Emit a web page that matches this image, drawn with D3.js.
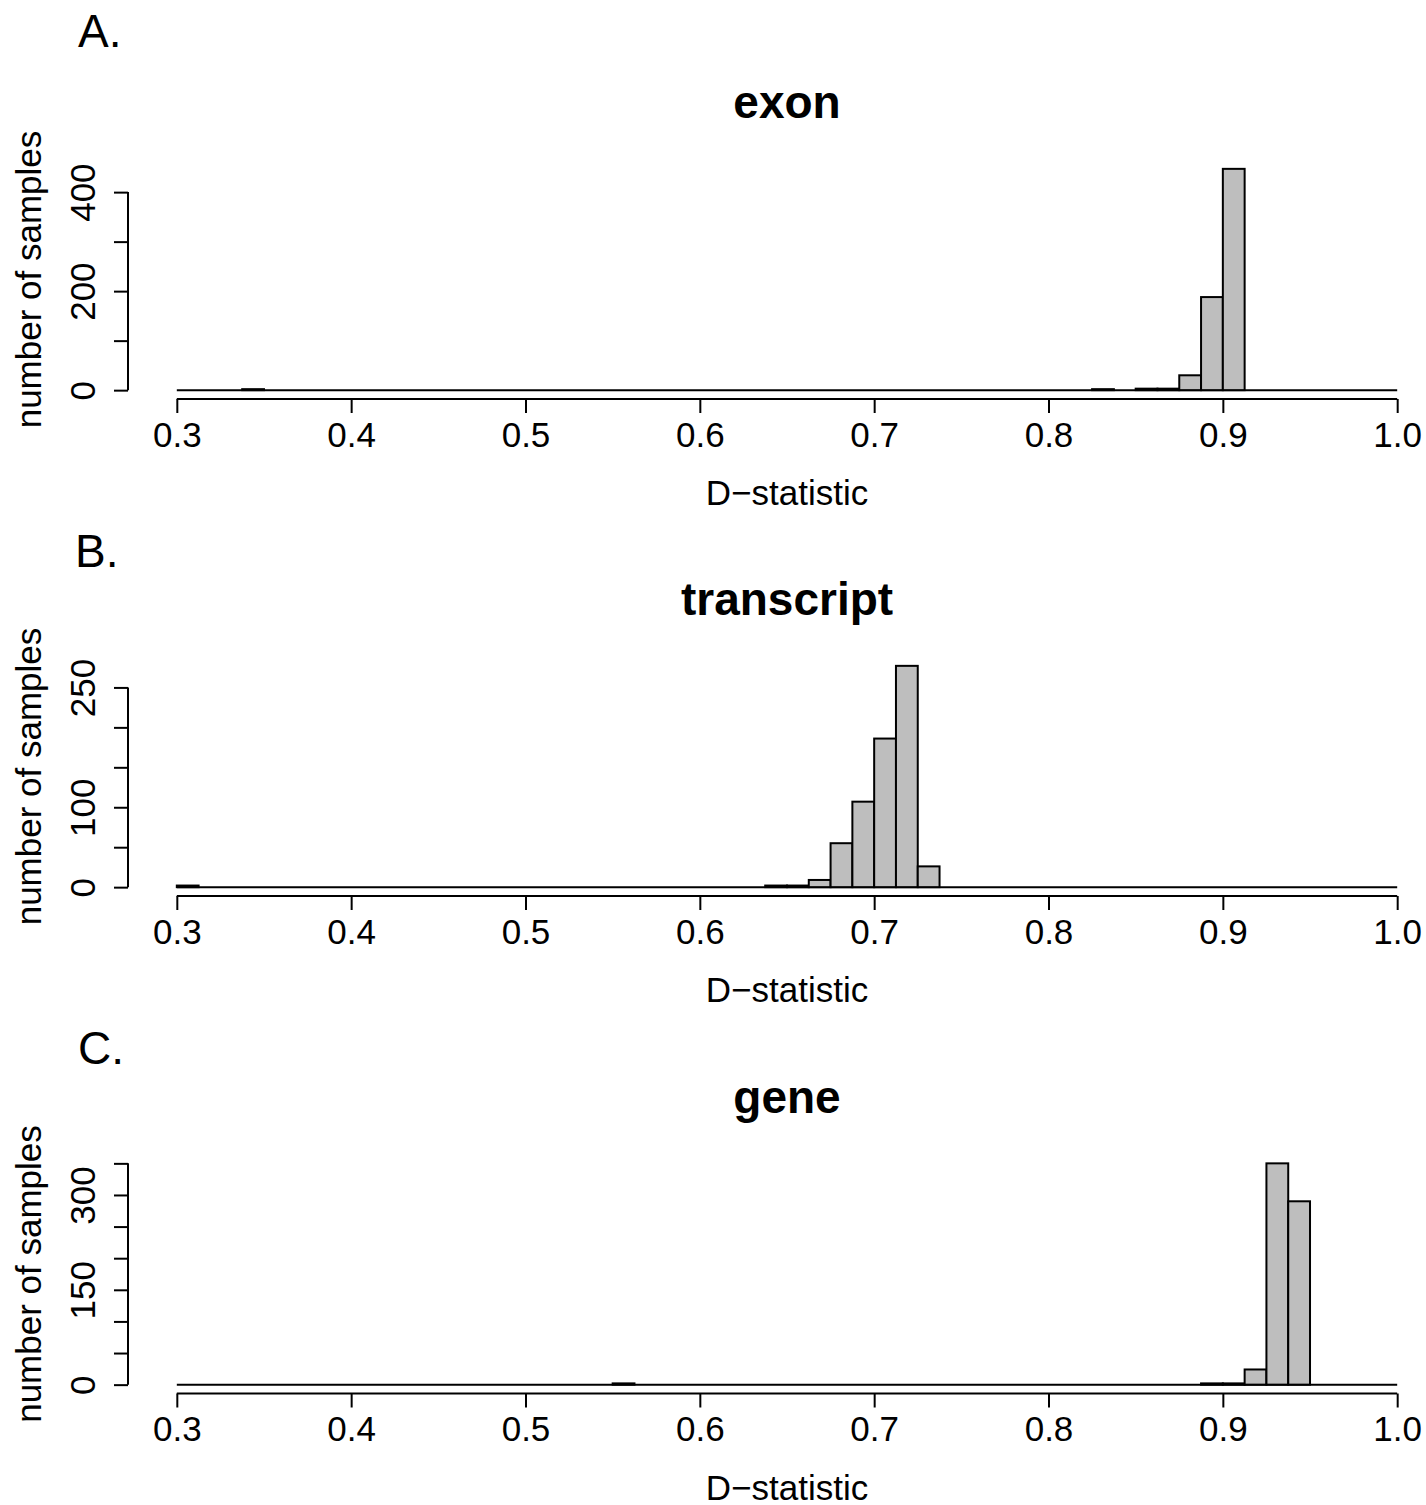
<!DOCTYPE html>
<html>
<head>
<meta charset="utf-8">
<script src="https://cdn.jsdelivr.net/npm/d3@7"></script>
<style>
  body { margin: 0; background: #fff; }
  text { font-family: "Liberation Sans", Arial, sans-serif; fill: #000; }
</style>
</head>
<body>
<div id="chart"></div>
<script>
// histogram breaks shared by all three panels
const histStart = 0.3;
const histEnd = 1.0;
const binWidth = 0.0125;

const xTicks = [0.3, 0.4, 0.5, 0.6, 0.7, 0.8, 0.9, 1.0];

// non-empty bins (left edge) and their counts
const exonBins = [0.3375, 0.825, 0.85, 0.8625, 0.875, 0.8875, 0.9];
const exonCounts = [2, 2, 3, 3, 30, 188, 447];
const exonYTicks = [0, 100, 200, 300, 400];
const exonYLabels = [0, 200, 400];

const transcriptBins = [0.3, 0.6375, 0.65, 0.6625, 0.675, 0.6875, 0.7, 0.7125, 0.725];
const transcriptCounts = [2, 2, 2, 9, 55, 107, 186, 277, 26];
const transcriptYTicks = [0, 50, 100, 150, 200, 250];
const transcriptYLabels = [0, 100, 250];

const geneBins = [0.55, 0.8875, 0.9, 0.9125, 0.925, 0.9375];
const geneCounts = [2, 2, 2, 24, 350, 290];
const geneYTicks = [0, 50, 100, 150, 200, 250, 300, 350];
const geneYLabels = [0, 150, 300];

const panels = [
    { tag: "A.", title: "exon", bins: exonBins, counts: exonCounts, yTicks: exonYTicks, yLabels: exonYLabels, bottom: 399, tagX: 78, tagY: 47 },
    { tag: "B.", title: "transcript", bins: transcriptBins, counts: transcriptCounts, yTicks: transcriptYTicks, yLabels: transcriptYLabels, bottom: 896, tagX: 75, tagY: 567 },
    { tag: "C.", title: "gene", bins: geneBins, counts: geneCounts, yTicks: geneYTicks, yLabels: geneYLabels, bottom: 1393.5, tagX: 78, tagY: 1064 }
];

const W = 1426, H = 1505;
const plotLeft = 128, plotRight = 1446, plotH = 239;
const lw = 2;

let svg = d3.select("#chart")
    .append("svg")
    .attr("width", W)
    .attr("height", H);

svg.append("rect").attr("width", W).attr("height", H).attr("fill", "#fff");

// R style 4% padding around the data range
let xPad = (histEnd - histStart) * 0.04;
let x = d3.scaleLinear().domain([histStart - xPad, histEnd + xPad]).range([plotLeft, plotRight]);
let cx = (plotLeft + plotRight) / 2;

panels.forEach(p => {
    let maxC = d3.max(p.counts);
    let y = d3.scaleLinear().domain([-0.04 * maxC, 1.04 * maxC]).range([p.bottom, p.bottom - plotH]);
    let g = svg.append("g");

    // panel tag
    g.append("text")
        .attr("x", p.tagX)
        .attr("y", p.tagY)
        .style("font-size", "46px")
        .text(p.tag);

    // title
    g.append("text")
        .attr("x", cx)
        .attr("y", p.bottom - plotH - 42)
        .style("text-anchor", "middle")
        .style("font-size", "46px")
        .style("font-weight", "bold")
        .text(p.title);

    // zero-height bins show up as a line along the bottom
    g.append("line")
        .attr("x1", x(histStart)).attr("x2", x(histEnd))
        .attr("y1", y(0)).attr("y2", y(0))
        .attr("stroke", "#000").attr("stroke-width", lw);

    // bars
    g.selectAll("rect.bar")
        .data(p.bins.map((b, i) => ({ b: b, c: p.counts[i] })))
        .enter()
        .append("rect")
        .attr("class", "bar")
        .attr("x", d => x(d.b))
        .attr("width", d => x(d.b + binWidth) - x(d.b))
        .attr("y", d => y(d.c))
        .attr("height", d => y(0) - y(d.c))
        .attr("fill", "#bebebe")
        .attr("stroke", "#000")
        .attr("stroke-width", lw);

    // X axis
    let xa = g.append("g")
        .attr("transform", "translate(0," + p.bottom + ")")
        .call(d3.axisBottom(x).tickValues(xTicks).tickSize(14).tickPadding(9).tickFormat(d3.format(".1f")));
    xa.select(".domain").remove();
    xa.selectAll(".tick line").attr("stroke", "#000").attr("stroke-width", lw);
    xa.selectAll(".tick text").style("font-size", "35px").attr("fill", "#000");
    xa.append("line")
        .attr("x1", x(histStart)).attr("x2", x(histEnd))
        .attr("stroke", "#000").attr("stroke-width", lw);

    g.append("text")
        .attr("x", cx)
        .attr("y", p.bottom + 106)
        .style("text-anchor", "middle")
        .style("font-size", "35px")
        .text("D\u2212statistic");

    // Y axis
    let ya = g.append("g")
        .attr("transform", "translate(" + plotLeft + ",0)")
        .call(d3.axisLeft(y).tickValues(p.yTicks).tickSize(14)
            .tickFormat(d => p.yLabels.includes(d) ? String(d) : ""));
    ya.select(".domain").remove();
    ya.selectAll(".tick line").attr("stroke", "#000").attr("stroke-width", lw);
    ya.selectAll(".tick text")
        .attr("transform", "rotate(-90)")
        .attr("x", 0)
        .attr("y", -33)
        .attr("dy", 0)
        .attr("fill", "#000")
        .style("text-anchor", "middle")
        .style("font-size", "35px");
    ya.append("line")
        .attr("y1", y(0)).attr("y2", y(d3.max(p.yTicks)))
        .attr("stroke", "#000").attr("stroke-width", lw);

    g.append("text")
        .attr("transform", "translate(" + (plotLeft - 87) + "," + (p.bottom - plotH / 2) + ")rotate(-90)")
        .style("text-anchor", "middle")
        .style("font-size", "35px")
        .text("number of samples");
});
</script>
</body>
</html>
